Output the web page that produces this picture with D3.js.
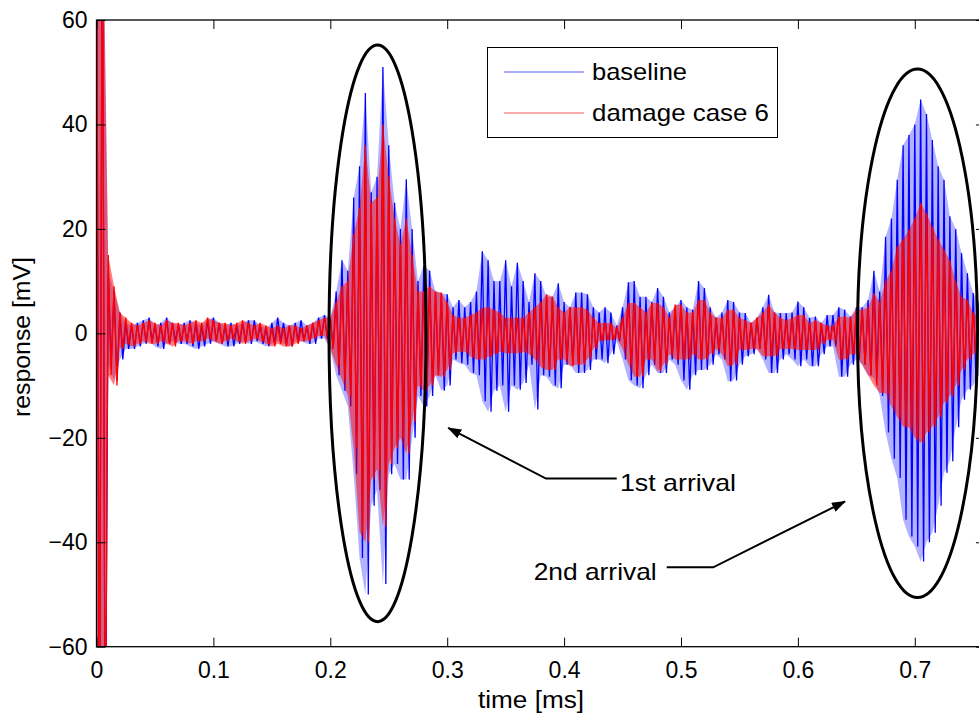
<!DOCTYPE html>
<html><head><meta charset="utf-8">
<script src="https://cdn.jsdelivr.net/npm/d3@7"></script>
<style>
body{margin:0;background:#fff}
text{font-family:"Liberation Sans",Arial,Helvetica,sans-serif;fill:#000}
</style>
</head><body>
<svg id="chart" width="979" height="717"></svg>
<script>
// ---- data ----
const timeStep = 0.005; // ms between envelope readings
const baselineUpper = [
 90,90,12,8,4,2,1.5,2,2.5,3,
 1.5,2,3,2,1.5,2,2.5,2,1.5,2.5,
 3,2,1.5,2,1.5,2,2.5,2.5,1.5,1,
 2,3,2,1.5,2,2.5,1.5,2,3,3.5,
 3,8,14,12,26,32,46,27,30,51,
 36,25,20,29.5,20,10,13,12,8,7.7,
 7.5,5,6.4,5,6,8,15.7,14,10,10,
 14,9,13.5,10,6,11.5,10,7,7,9.6,
 6,5,7.8,7.8,7.5,5,4,5,4,1.5,
 5,9.8,10,7,7,6,8.7,7,4,5,
 6.4,5,4.5,10,8.7,5,3,4,6.4,6,
 4,3.9,2,3,5,7.4,4,3.9,3.9,4,
 6.1,5,3,3.2,2,3.5,3.5,5,4.5,3.2,
 5,5,6.4,12,8,18.5,22,29.4,36,38,
 40,44.8,42,37,32,29.4,22.4,20,15.4,11.5,
 7.7,6];
const baselineLower = [
 -90,-90,-6,-9,-5,-3,-3,-2.5,-2,-1.5,
 -2.5,-3,-2,-1.5,-2,-2,-2.5,-3,-2.5,-2,
 -1.5,-2,-2.5,-2.5,-2,-1.5,-2,-1.5,-2,-2.5,
 -2,-1.5,-2,-2.5,-1.5,-1.5,-2,-2,-1,-1,
 -3,-8,-11,-14,-27,-43,-50,-33,-30,-48,
 -27,-25,-28,-28,-20,-12,-14,-12,-8,-11,
 -10,-5,-5.7,-6,-7.6,-8,-13,-15,-11,-10,
 -15,-10,-10.8,-9.5,-6,-14.6,-8,-8.3,-10,-10.5,
 -6,-6,-7.6,-7.6,-7,-5,-5,-5.7,-4,-1.5,
 -5,-9,-10,-10.5,-8,-6,-7.6,-7.6,-5,-6,
 -9,-10.8,-8,-7,-7,-6,-4,-5,-9.2,-9,
 -6,-4.4,-4,-3,-5,-7.6,-7.6,-5,-4,-5,
 -6.3,-5,-6.3,-6.3,-4,-2.5,-2.5,-8.3,-8.3,-6,
 -5,-6,-8,-8.5,-12,-19,-24,-27.7,-35.7,-38.9,
 -40.8,-43.7,-40,-38.2,-33,-26.7,-24.5,-18,-12.7,-10.8,
 -10,-8];
const damageUpper = [
 90,90,15,9,4,3,2,1.5,2,2.5,
 2,1.5,2.5,2,2,1.5,2,2.5,2,3,
 2.5,2,2,1.5,2,2.5,2,1.5,2,1.5,
 1,1.5,1,1.5,1.5,1,1.5,2,2.5,3,
 3,6,9,10,19,24,36,25,26,40,
 30,22,17,22,15,8,8,9,8,7.8,
 6,3.5,3,3,3.5,4,4.9,5,4.5,4,
 3,3,3,3,4,5,6,7.5,7,5,
 4,5,5,5,4.5,3,2,2,2,1,
 3,5.8,5.8,5,4,5.8,5.8,5,3,5.5,
 5.5,4,4,6.4,6.4,4,3,3,4.5,4.5,
 3,2.5,2,3,4,5.5,4,3,2.5,3,
 3.5,3.5,2,2.5,2,1.5,1.5,3.2,3.2,3,
 4.5,4.5,5,7.7,6,10,12,16.6,18,19.8,
 22,25,23,20.4,18,16,14,10,7,6.4,
 4,3];
const damageLower = [
 -90,-90,-8,-10,-3,-2,-2.5,-2,-1.5,-2,
 -2,-1.5,-2,-2.5,-1.5,-1.5,-2,-1.5,-1.5,-1,
 -1.5,-2,-1.5,-1,-1.5,-2,-1.5,-1,-1.5,-2,
 -2.5,-2,-2.5,-2.5,-2,-1.5,-1.5,-1,-0.5,-0.5,
 -3,-6,-9,-12,-22,-38,-40,-28,-26,-37,
 -25,-22,-20,-23,-17,-10,-11,-10,-8,-8.3,
 -7,-3.8,-3.5,-3.5,-4.5,-5,-5,-4.5,-4,-3.5,
 -3.8,-3.8,-3.8,-3.5,-4,-5,-6.5,-7,-7,-5,
 -5,-6.3,-6,-6,-5,-3,-1.5,-1.3,-1.3,-1,
 -3,-6,-8.3,-8.3,-5,-5,-7.3,-6,-4,-5,
 -5,-5,-4,-5,-5,-4,-3,-4,-6.3,-6,
 -3.2,-3.2,-3,-3,-4.4,-4.4,-4.4,-3,-3,-3,
 -3.2,-3.2,-3.2,-3.2,-2,-1.3,-1.3,-5,-5,-4,
 -4,-6,-8,-10,-11.4,-11.4,-14,-16,-17.9,-18,
 -20,-21,-19,-17.9,-16,-13.3,-12,-10,-7,-5,
 -4,-3];
const seriesNames = ["baseline", "damage case 6"];
const seriesColors = ["#0000ff", "#ff0000"];
const xTicks = [0, 0.1, 0.2, 0.3, 0.4, 0.5, 0.6, 0.7];
const yTicks = [-60, -40, -20, 0, 20, 40, 60];
const xDomain = [0, 0.76];
const yDomain = [-60, 60];
const xTitle = "time [ms]";
const yTitle = "response [mV]";
// annotations in data units
const ellipses = [
  {t: 0.2404, v: 0, rt: 0.0415, rv: 55.2},
  {t: 0.7023, v: 0, rt: 0.0513, rv: 50.6}
];
const arrows = [
  {label: "1st arrival", path: [[0.445, -27.8], [0.3845, -27.8], [0.3009, -18.1]], textT: 0.4478, textV: -30.1, anchor: "start", len: 116},
  {label: "2nd arrival", path: [[0.4878, -44.8], [0.5276, -44.8], [0.6403, -32.2]], textT: 0.4792, textV: -47.2, anchor: "end", len: 123}
];

// ---- drawing ----
const W = 979, H = 717;
const plotLeft = 96.5, plotTop = 20, plotBottom = 646.7;
const x = d3.scaleLinear().domain(xDomain).range([plotLeft, plotLeft + 1169 * xDomain[1]]);
const y = d3.scaleLinear().domain(yDomain).range([plotBottom, plotTop]);
const svg = d3.select("#chart");
svg.append("rect").attr("width", W).attr("height", H).attr("fill", "#fff");
const defs = svg.append("defs");
defs.append("clipPath").attr("id", "plotclip")
  .append("rect").attr("x", x.range()[0]).attr("y", plotTop)
  .attr("width", x.range()[1] - x.range()[0]).attr("height", plotBottom - plotTop);

function zigzag(U, L) {
  const pts = [];
  U.forEach((u, i) => {
    pts.push([i * timeStep, u]);
    pts.push([i * timeStep + timeStep / 2, L[i]]);
  });
  return pts;
}
const line = d3.line().x(d => x(d[0])).y(d => y(d[1]));
const band = d3.area().x((d, i) => x(i * timeStep)).y0(d => y(d[1])).y1(d => y(d[0]));
const plot = svg.append("g").attr("clip-path", "url(#plotclip)");
const fillOpacity = [0.3, 0.5];
[[baselineUpper, baselineLower], [damageUpper, damageLower]].forEach((s, k) => {
  plot.append("path").datum(s[0].map((u, i) => [u, s[1][i]]))
    .attr("d", band).attr("fill", seriesColors[k]).attr("fill-opacity", fillOpacity[k]);
  plot.append("path").datum(zigzag(s[0], s[1]))
    .attr("d", line).attr("fill", "none")
    .attr("stroke", seriesColors[k]).attr("stroke-width", 1.3);
});

// axes
const fontSize = 23;
const gx = svg.append("g").attr("transform", `translate(0,${plotBottom})`)
  .call(d3.axisBottom(x).tickValues(xTicks).tickSizeInner(-9).tickSizeOuter(0).tickPadding(15).tickFormat(d3.format("")));
const gxt = svg.append("g").attr("transform", `translate(0,${plotTop})`)
  .call(d3.axisTop(x).tickValues(xTicks).tickSizeInner(-9).tickSizeOuter(0).tickFormat(""));
const gy = svg.append("g").attr("transform", `translate(${plotLeft},0)`)
  .call(d3.axisLeft(y).tickValues(yTicks).tickSizeInner(-9).tickSizeOuter(0).tickPadding(9).tickFormat(d3.format("")));
const gyr = svg.append("g").attr("transform", `translate(${x.range()[1]},0)`)
  .call(d3.axisRight(y).tickValues(yTicks).tickSizeInner(-9).tickSizeOuter(0).tickFormat(""));
[gx, gxt, gy, gyr].forEach(g => {
  g.select(".domain").remove();
  g.selectAll("line").attr("stroke", "#000").attr("stroke-width", 1);
  g.selectAll("text").attr("font-size", fontSize).attr("font-family", '"Liberation Sans",Arial,sans-serif').attr("fill", "#000");
});
svg.append("rect").attr("x", x.range()[0]).attr("y", plotTop)
  .attr("width", x.range()[1] - x.range()[0]).attr("height", plotBottom - plotTop)
  .attr("fill", "none").attr("stroke", "#000").attr("stroke-width", 1.3);

svg.append("text").attr("x", 531).attr("y", 708).attr("text-anchor", "middle")
  .attr("font-size", fontSize).attr("textLength", 106).attr("lengthAdjust", "spacingAndGlyphs").text(xTitle);
svg.append("text").attr("transform", `translate(30,337) rotate(-90)`)
  .attr("text-anchor", "middle").attr("font-size", fontSize)
  .attr("textLength", 160).attr("lengthAdjust", "spacingAndGlyphs").text(yTitle);

// ellipses
svg.selectAll(".ell").data(ellipses).enter().append("ellipse")
  .attr("cx", d => x(d.t)).attr("cy", d => y(d.v))
  .attr("rx", d => x(d.t + d.rt) - x(d.t)).attr("ry", d => y(d.v) - y(d.v + d.rv))
  .attr("fill", "none").attr("stroke", "#000").attr("stroke-width", 3);

// arrows
defs.append("marker").attr("id", "ah")
  .attr("viewBox", "0 0 14 10").attr("refX", 13).attr("refY", 5)
  .attr("markerWidth", 14).attr("markerHeight", 10).attr("markerUnits", "userSpaceOnUse")
  .attr("orient", "auto")
  .append("path").attr("d", "M0,0 L14,5 L0,10 Z").attr("fill", "#000");
arrows.forEach(a => {
  svg.append("path").datum(a.path).attr("d", line).attr("fill", "none")
    .attr("stroke", "#000").attr("stroke-width", 2).attr("marker-end", "url(#ah)");
  svg.append("text").attr("x", x(a.textT)).attr("y", y(a.textV))
    .attr("text-anchor", a.anchor).attr("font-size", 24)
    .attr("textLength", a.len).attr("lengthAdjust", "spacingAndGlyphs").text(a.label);
});

// legend
const legendLens = [95, 177];
const lg = svg.append("g");
lg.append("rect").attr("x", 487.5).attr("y", 47.5).attr("width", 290).attr("height", 90)
  .attr("fill", "#fff").attr("stroke", "#000").attr("stroke-width", 1);
seriesNames.forEach((n, i) => {
  const yy = 72 + i * 41;
  lg.append("line").attr("x1", 504).attr("x2", 584).attr("y1", yy).attr("y2", yy)
    .attr("stroke", seriesColors[i]).attr("stroke-width", 1).attr("stroke-opacity", 0.65);
  lg.append("text").attr("x", 592).attr("y", yy).attr("dy", "0.35em")
    .attr("font-size", 24).attr("textLength", legendLens[i]).attr("lengthAdjust", "spacingAndGlyphs").text(n);
});
</script>
</body></html>
